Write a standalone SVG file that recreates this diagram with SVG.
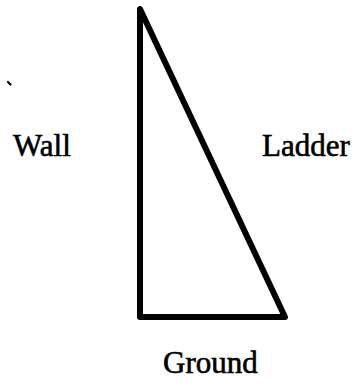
<svg xmlns="http://www.w3.org/2000/svg" width="353" height="386" viewBox="0 0 353 386">
<style>
.lbl{font-family:'Liberation Serif','DejaVu Serif',serif;font-size:31px;fill:#000;stroke:#000;stroke-width:0.6}
.edge{fill:none;stroke:#000;stroke-width:6;stroke-linejoin:round;stroke-linecap:round}
</style>
<rect width="353" height="386" fill="#fff"/>
<g id="connectors">
<polygon class="edge" points="140,9 140,317 285,317"/>
</g>
<g id="dot"><line x1="8" y1="82" x2="10.5" y2="84.5" stroke="#000" stroke-width="2.2" stroke-linecap="round"/></g>
<g id="wall"><text class="lbl" x="13" y="156" font-family="Liberation Serif, serif">Wall</text></g>
<g id="ladder"><text class="lbl" x="262" y="156" font-family="Liberation Serif, serif">Ladder</text></g>
<g id="ground"><text class="lbl" x="163" y="373" font-family="Liberation Serif, serif">Ground</text></g>
</svg>
